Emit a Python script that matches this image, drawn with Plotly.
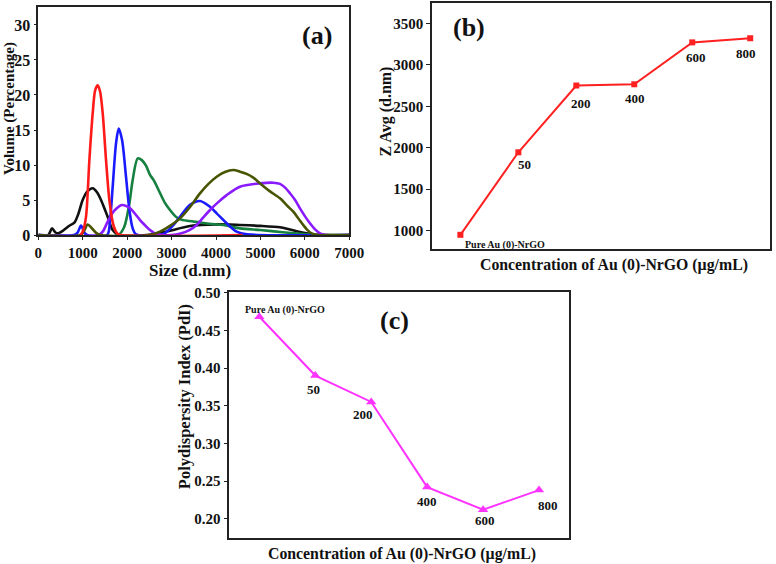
import plotly.graph_objects as go

# ---------- Panel (a): size distribution (Volume %) ----------
black_x = [0, 220, 308, 380, 436, 550, 698, 811, 900, 998, 1100, 1224, 1320, 1411, 1500, 1561, 1674, 1800, 2500, 2889, 3414, 4015, 4540, 5000, 5440, 5600, 5815, 6000, 6300, 7000]
black_y = [0, 0, 0.95, 0.4, 0.24, 0.6, 1.33, 1.76, 3.0, 5.0, 6.2, 6.67, 6.1, 5.0, 3.6, 2.6, 0.7, 0.05, 0.05, 0.5, 1.29, 1.52, 1.43, 1.3, 1.1, 0.9, 0.55, 0.3, 0.02, 0]

green_x = [0, 1800, 1936, 2049, 2124, 2237, 2330, 2424, 2514, 2600, 2739, 2850, 2964, 3080, 3189, 3400, 3639, 3850, 4164, 4540, 4990, 5500, 6041, 6300, 7000]
green_y = [0, 0, 1.2, 4.5, 7.86, 10.95, 10.7, 9.9, 8.6, 7.8, 6.0, 4.6, 3.57, 2.7, 2.24, 2.0, 1.8, 1.6, 1.43, 0.95, 0.71, 0.4, 0.1, 0, 0]

blue_x = [0, 800, 880, 961, 1040, 1100, 1550, 1614, 1674, 1749, 1809, 1884, 1974, 2049, 2124, 2200, 2800, 3040, 3189, 3414, 3640, 3850, 4015, 4240, 4465, 4700, 7000]
blue_y = [0, 0, 0.3, 1.35, 0.3, 0, 0, 2.1, 6.9, 13.1, 15.2, 13.6, 8.3, 3.6, 0.95, 0.1, 0.1, 1.43, 2.6, 4.3, 4.86, 4.1, 3.1, 1.67, 0.48, 0.1, 0]

purple_x = [0, 1350, 1449, 1561, 1700, 1884, 2050, 2199, 2289, 2400, 2514, 2664, 3000, 3200, 3400, 3565, 3700, 3865, 4050, 4240, 4540, 4990, 5290, 5440, 5550, 5665, 5780, 5890, 6000, 6115, 6230, 6340, 6500, 7000]
purple_y = [0, 0, 0.48, 1.9, 3.4, 4.29, 3.9, 2.86, 2.14, 1.4, 0.71, 0.1, 0, 0.2, 0.7, 1.43, 2.4, 3.57, 4.7, 5.7, 6.9, 7.38, 7.47, 7.3, 6.8, 5.96, 5.0, 3.8, 2.7, 1.67, 0.8, 0.24, 0, 0]

olive_x = [0, 950, 1030, 1111, 1200, 1300, 1400, 2500, 2739, 2964, 3189, 3414, 3639, 3830, 4015, 4200, 4389, 4540, 4700, 4839, 4990, 5200, 5440, 5600, 5740, 5850, 5964, 6060, 6153, 6300, 7000]
olive_y = [0, 0, 0.6, 1.5, 1.0, 0.3, 0, 0, 0.48, 1.3, 2.38, 4.0, 5.95, 7.3, 8.33, 9.0, 9.28, 9.05, 8.7, 8.2, 7.38, 6.3, 5.24, 4.2, 3.33, 2.4, 1.43, 0.7, 0.24, 0, 0]

red_x = [950, 1000, 1073, 1149, 1224, 1280, 1336, 1390, 1449, 1524, 1599, 1689, 1780, 1850, 4600]
red_y = [0, 0.5, 2.6, 10.7, 17.4, 20.7, 21.4, 20.5, 17.4, 10.7, 5, 1.43, 0.2, 0, 0]

size_ticks = [0, 1000, 2000, 3000, 4000, 5000, 6000, 7000]
vol_ticks = [0, 5, 10, 15, 20, 25, 30]

# ---------- Panels (b) and (c) ----------
conc_labels = ["Pure Au (0)-NrGO", "50", "200", "400", "600", "800"]
conc_pos = [0, 1, 2, 3, 4, 5]
z_avg = [950, 1945, 2750, 2765, 3270, 3320]
pdi = [0.468, 0.39, 0.355, 0.242, 0.212, 0.238]

zavg_ticks = [1000, 1500, 2000, 2500, 3000, 3500]
pdi_ticks = [0.20, 0.25, 0.30, 0.35, 0.40, 0.45, 0.50]

FONT = "Liberation Serif, Times New Roman, serif"
W, H = 776, 564

fig = go.Figure()

curves = [
    (black_x, black_y, "#111111"),
    (green_x, green_y, "#15803f"),
    (blue_x, blue_y, "#1a1aff"),
    (purple_x, purple_y, "#8a1aff"),
    (olive_x, olive_y, "#485400"),
    (red_x, red_y, "#ff1a1a"),
]
for cx, cy, col in curves:
    fig.add_trace(go.Scatter(x=cx, y=cy, mode="lines", line=dict(color=col, width=2.6, shape="spline", smoothing=0.8),
                             xaxis="x", yaxis="y", showlegend=False, hoverinfo="skip"))

fig.add_trace(go.Scatter(x=conc_pos, y=z_avg, mode="lines+markers",
                         line=dict(color="#ff2020", width=2),
                         marker=dict(symbol="square", size=6, color="#ff2020"),
                         xaxis="x2", yaxis="y2", showlegend=False))

fig.add_trace(go.Scatter(x=conc_pos, y=pdi, mode="lines+markers",
                         line=dict(color="#ff33ff", width=2),
                         marker=dict(symbol="triangle-up", size=9, color="#ff33ff"),
                         xaxis="x3", yaxis="y3", showlegend=False))

ax_common = dict(showline=True, linecolor="#222", linewidth=1.6, mirror=True, showgrid=False,
                 zeroline=False, ticks="outside", ticklen=5, tickwidth=1.4, tickcolor="#222",
                 automargin=False)

fig.update_layout(
    width=W, height=H,
    margin=dict(l=0, r=0, t=0, b=0),
    paper_bgcolor="white", plot_bgcolor="white",
    font=dict(family=FONT, color="#111"),
    xaxis=dict(domain=[0.0494, 0.4501], anchor="y", range=[0, 7000], tickvals=size_ticks,
               tickfont=dict(size=15), **{**ax_common, "ticklen": 3}),
    yaxis=dict(domain=[0.5833, 0.9876], anchor="x", range=[0, 32.57], tickvals=vol_ticks,
               tickfont=dict(size=16), **{**ax_common, "ticklen": 3}),
    xaxis2=dict(domain=[0.5567, 0.9923], anchor="y2", range=[-0.49, 5.342], showticklabels=False,
                **{**ax_common, "ticks": ""}),
    yaxis2=dict(domain=[0.5585, 0.9947], anchor="x2", range=[779, 3745], tickvals=zavg_ticks,
                tickfont=dict(size=15), **{**ax_common, "ticklen": 4}),
    xaxis3=dict(domain=[0.2955, 0.7332], anchor="y3", range=[-0.537, 5.535], showticklabels=False,
                **{**ax_common, "ticks": ""}),
    yaxis3=dict(domain=[0.0466, 0.4823], anchor="x3", range=[0.1748, 0.5009], tickvals=pdi_ticks,
                tickformat=".2f", tickfont=dict(size=15), **{**ax_common, "ticklen": 4}),
)

annots = []
# axis titles (placed in pixel terms of the page)
titles = [
    ("Volume (Percentage)", 9.5, 108.5, 15, -90),
    ("Size (d.nm)", 190, 270, 17, 0),
    ("Z Avg (d.nm)", 385.5, 112, 16, -90),
    ("Concentration of Au (0)-NrGO (µg/mL)", 614, 265, 15.8, 0),
    ("Polydispersity Index (PdI)", 184.5, 396.7, 16.5, -90),
    ("Concentration of Au (0)-NrGO (µg/mL)", 401.7, 554, 15.8, 0),
]
for txt, px, py, fs, ang in titles:
    annots.append(dict(text=f"<b>{txt}</b>", x=px / W, y=1 - py / H, xref="paper", yref="paper",
                       showarrow=False, xanchor="center", yanchor="middle", textangle=ang,
                       font=dict(size=fs, family=FONT, color="#111")))

annots.append(dict(text="<b>(a)</b>", x=0.896, y=0.873, xref="x domain", yref="y domain", showarrow=False,
                   xanchor="center", yanchor="middle", font=dict(size=26, family=FONT)))
annots.append(dict(text="<b>(b)</b>", x=0.109, y=0.902, xref="x2 domain", yref="y2 domain", showarrow=False,
                   xanchor="center", yanchor="middle", font=dict(size=26, family=FONT)))
annots.append(dict(text="<b>(c)</b>", x=0.485, y=0.882, xref="x3 domain", yref="y3 domain", showarrow=False,
                   xanchor="center", yanchor="middle", font=dict(size=26, family=FONT)))

b_shifts = [(45, -10), (6, -12), (5, -18), (1, -14), (4, -15), (-4, -15)]
c_shifts = [(26, 7), (-2, -14), (-8, -13), (0, -14), (2, -11), (9, -15)]
for i, lab in enumerate(conc_labels):
    fs = 10 if i == 0 else 13
    annots.append(dict(text=f"<b>{lab}</b>", x=conc_pos[i], y=z_avg[i], xref="x2", yref="y2", showarrow=False,
                       xanchor="center", yanchor="middle",
                       xshift=b_shifts[i][0], yshift=b_shifts[i][1], font=dict(size=fs, family=FONT)))
    annots.append(dict(text=f"<b>{lab}</b>", x=conc_pos[i], y=pdi[i], xref="x3", yref="y3", showarrow=False,
                       xanchor="center", yanchor="middle",
                       xshift=c_shifts[i][0], yshift=c_shifts[i][1], font=dict(size=fs, family=FONT)))
fig.update_layout(annotations=annots)

for ax in ["xaxis", "yaxis", "xaxis2", "yaxis2", "xaxis3", "yaxis3"]:
    fig.layout[ax].tickfont.family = FONT
    fig.layout[ax].tickfont.weight = "bold"
    fig.layout[ax].tickfont.color = "#111"

fig.write_html("out.html", config={"displayModeBar": False},
               post_script="document.body.style.margin='0px';document.body.style.overflow='hidden';")
